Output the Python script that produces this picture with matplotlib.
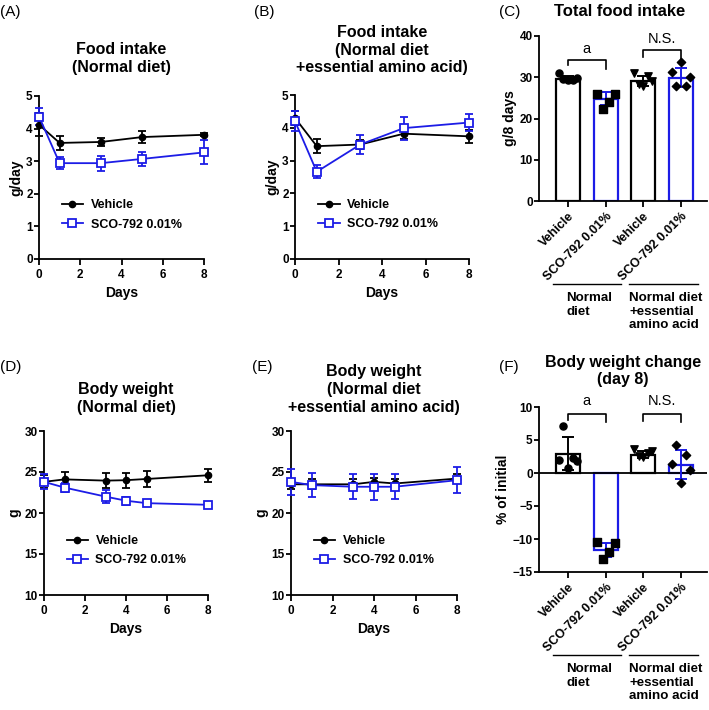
import numpy as np
import matplotlib
matplotlib.use("Agg")
import matplotlib.pyplot as plt
from matplotlib.lines import Line2D

plt.rcParams['font.family'] = ['Liberation Sans', 'DejaVu Sans']
plt.rcParams['font.weight'] = 'bold'

BLUE = '#1c1ce6'

# time course data
days_food = [0, 1, 3, 5, 8]
days_bw = [0, 1, 3, 4, 5, 8]

a_veh = [4.12, 3.56, 3.59, 3.74, 3.81]
a_veh_err = [0.35, 0.22, 0.13, 0.19, 0.05]
a_sco = [4.37, 2.94, 2.94, 3.07, 3.27]
a_sco_err = [0.25, 0.18, 0.23, 0.22, 0.37]

b_veh = [4.30, 3.44, 3.49, 3.82, 3.74]
b_veh_err = [0.2, 0.22, 0.15, 0.15, 0.2]
b_sco = [4.20, 2.66, 3.49, 3.99, 4.16]
b_sco_err = [0.3, 0.2, 0.3, 0.35, 0.25]

d_veh = [23.8, 24.1, 23.95, 24.0, 24.15, 24.6]
d_veh_err = [0.8, 0.9, 0.9, 0.9, 1.0, 0.8]
d_sco = [23.8, 23.1, 22.0, 21.5, 21.2, 21.0]
d_sco_err = [0.9, 0.5, 0.8, 0.5, 0.4, 0.4]

e_veh = [23.5, 23.5, 23.5, 23.8, 23.6, 24.2]
e_veh_err = [0.6, 0.6, 0.6, 0.5, 0.5, 0.5]
e_sco = [23.8, 23.4, 23.2, 23.2, 23.2, 24.0]
e_sco_err = [1.55, 1.5, 1.5, 1.6, 1.5, 1.6]

# bar data
bar_labels = ['Vehicle', 'SCO-792 0.01%', 'Vehicle', 'SCO-792 0.01%']
c_means = [29.6, 24.8, 29.1, 29.9]
c_err = [0.8, 1.6, 1.3, 2.3]
c_points = [[31.0, 29.6, 29.3, 29.4, 29.8],
            [26.0, 22.2, 24.1, 26.0],
            [31.0, 28.3, 28.0, 30.4, 29.1],
            [31.3, 28.0, 33.7, 27.8, 30.0]]
f_means = [2.94, -11.66, 2.8, 1.27]
f_err = [2.5, 1.0, 0.5, 2.15]
f_points = [[1.9, 7.1, 0.8, 2.2, 1.8],
            [-10.5, -13.1, -11.9, -10.65],
            [3.6, 2.6, 2.4, 3.0, 3.4],
            [1.3, 4.2, -1.5, 2.7, 0.4]]
point_markers = ['o', 's', 'v', 'D']
point_sizes = [26, 26, 28, 18]

W, H = 709, 710
fig = plt.figure(figsize=(W / 100, H / 100), dpi=100)


def box(l, r, t, b):
    return [l / W, 1 - b / H, (r - l) / W, (b - t) / H]


def style(ax, ticksize=8.5):
    for s in ['top', 'right']:
        ax.spines[s].set_visible(False)
    for s in ['left', 'bottom']:
        ax.spines[s].set_linewidth(1.3)
    ax.tick_params(width=1.3, length=4, labelsize=ticksize)
    ax.tick_params(axis='x', pad=3)
    ax.tick_params(axis='y', pad=1, length=3.5)
    for t in ax.get_xticklabels() + ax.get_yticklabels():
        t.set_fontweight('bold')


def line_panel(rect, x, veh, veh_err, sco, sco_err, ylim, yticks, ylabel, title, title_y):
    ax = fig.add_axes(box(*rect))
    ax.errorbar(x, veh, yerr=veh_err, color='black', marker='o', ms=4.5,
                lw=1.3, capsize=3, elinewidth=1.3, capthick=1.3, clip_on=False, zorder=3)
    ax.errorbar(x, sco, yerr=sco_err, color=BLUE, marker='s', ms=5.5, mfc='white',
                mec=BLUE, mew=1.3, lw=1.3, capsize=3, elinewidth=1.3, capthick=1.3,
                clip_on=False, zorder=3)
    ax.set_xlim(0, 8)
    ax.set_xticks([0, 2, 4, 6, 8])
    ax.set_ylim(*ylim)
    ax.set_yticks(yticks)
    ax.set_xlabel('Days', fontsize=10, fontweight='bold', labelpad=4)
    ax.set_ylabel(ylabel, fontsize=10, fontweight='bold', labelpad=2)
    style(ax)
    h1 = Line2D([], [], color='black', marker='o', ms=4.5, lw=1.3)
    h2 = Line2D([], [], color=BLUE, marker='s', ms=5.5, mfc='white', mew=1.3, lw=1.3)
    ax.legend([h1, h2], ['Vehicle', 'SCO-792 0.01%'], frameon=False,
              loc='center left', bbox_to_anchor=(0.07, 0.27), handlelength=1.7,
              handletextpad=0.6, labelspacing=0.6, prop={'weight': 'bold', 'size': 9})
    ax.text(0.5, title_y, title, transform=ax.transAxes, ha='center', va='bottom',
            fontsize=11.5, fontweight='bold', linespacing=1.22)
    return ax


def bar_panel(rect, means, err, points, ylim, yticks, ylabel, brackets, zero_line):
    ax = fig.add_axes(box(*rect))
    x = np.arange(len(means))
    colors = ['black', BLUE, 'black', BLUE]
    ax.bar(x, means, width=0.64, color='white', edgecolor=colors, linewidth=1.6, zorder=2)
    for i in range(len(means)):
        ax.errorbar(x[i], means[i], yerr=err[i], color=colors[i], capsize=4,
                    elinewidth=1.4, capthick=1.4, zorder=4)
        n = len(points[i])
        jit = np.linspace(-0.24, 0.24, n)
        ax.scatter(x[i] + jit, points[i], marker=point_markers[i], s=point_sizes[i],
                   color='black', zorder=5)
    if zero_line:
        ax.axhline(0, color='black', lw=1.3, zorder=3)
    ax.set_xlim(-0.77, 3.69)
    ax.set_ylim(*ylim)
    ax.set_yticks(yticks)
    ax.set_xticks(x)
    ax.set_xticklabels(bar_labels, rotation=45, ha='right', rotation_mode='anchor',
                       fontweight='bold')
    ax.set_ylabel(ylabel, fontsize=10, fontweight='bold', labelpad=2)
    style(ax)
    for t in ax.get_xticklabels():
        t.set_fontsize(9)
    for (x0, x1, ytop, yl, yr, lab, ly) in brackets:
        ax.plot([x0, x0, x1, x1], [yl, ytop, ytop, yr], color='black', lw=1.2, clip_on=False)
        ax.text((x0 + x1) / 2, ly, lab, ha='center', va='center', fontsize=10.5,
                fontweight='normal', clip_on=False)
    tr = ax.get_xaxis_transform()
    ax.plot([-0.4, 1.4], [-0.505, -0.505], color='black', lw=1.0, transform=tr, clip_on=False)
    ax.plot([1.62, 3.45], [-0.505, -0.505], color='black', lw=1.0, transform=tr, clip_on=False)
    ax.text(-0.05, -0.55, 'Normal\ndiet', transform=tr, ha='left', va='top',
            fontsize=9.6, fontweight='bold', linespacing=1.2)
    ax.text(1.62, -0.55, 'Normal diet\n+essential\namino acid', transform=tr, ha='left',
            va='top', fontsize=9.6, fontweight='bold', linespacing=1.2)
    return ax


line_panel((39, 204, 96, 259), days_food, a_veh, a_veh_err, a_sco, a_sco_err,
           (0, 5), [0, 1, 2, 3, 4, 5], 'g/day', 'Food intake\n(Normal diet)', 1.13)
line_panel((295, 469, 95, 259), days_food, b_veh, b_veh_err, b_sco, b_sco_err,
           (0, 5), [0, 1, 2, 3, 4, 5], 'g/day',
           'Food intake\n(Normal diet\n+essential amino acid)', 1.12)
line_panel((44, 208, 431, 595), days_bw, d_veh, d_veh_err, d_sco, d_sco_err,
           (10, 30), [10, 15, 20, 25, 30], 'g', 'Body weight\n(Normal diet)', 1.1)
line_panel((291, 457, 431, 595), days_bw, e_veh, e_veh_err, e_sco, e_sco_err,
           (10, 30), [10, 15, 20, 25, 30], 'g',
           'Body weight\n(Normal diet\n+essential amino acid)', 1.1)

axc = bar_panel((539, 707, 36, 201), c_means, c_err, c_points, (0, 40), [0, 10, 20, 30, 40],
                'g/8 days',
                [(0, 1, 34.1, 33.0, 32.0, 'a', 36.8), (2, 3, 36.5, 35.0, 34.2, 'N.S.', 39.3)],
                False)
axc.text(0.48, 1.1, 'Total food intake', transform=axc.transAxes, ha='center', va='bottom',
         fontsize=12, fontweight='bold')

axf = bar_panel((539, 707, 407, 572), f_means, f_err, f_points, (-15, 10),
                [-15, -10, -5, 0, 5, 10], '% of initial',
                [(0, 1, 9.0, 8.0, 7.8, 'a', 10.9), (2, 3, 9.0, 7.9, 7.8, 'N.S.', 10.9)],
                True)
axf.text(0.5, 1.12, 'Body weight change\n(day 8)', transform=axf.transAxes, ha='center',
         va='bottom', fontsize=11.5, fontweight='bold', linespacing=1.15)

# panel letters
for lab, px, py in [('(A)', 0, 12), ('(B)', 254, 12), ('(C)', 499, 12),
                    ('(D)', 0, 367), ('(E)', 252, 367), ('(F)', 499, 367)]:
    fig.text(px / W, 1 - py / H, lab, ha='left', va='center', fontsize=11,
             fontweight='normal')

fig.savefig('out.png', dpi=100)
